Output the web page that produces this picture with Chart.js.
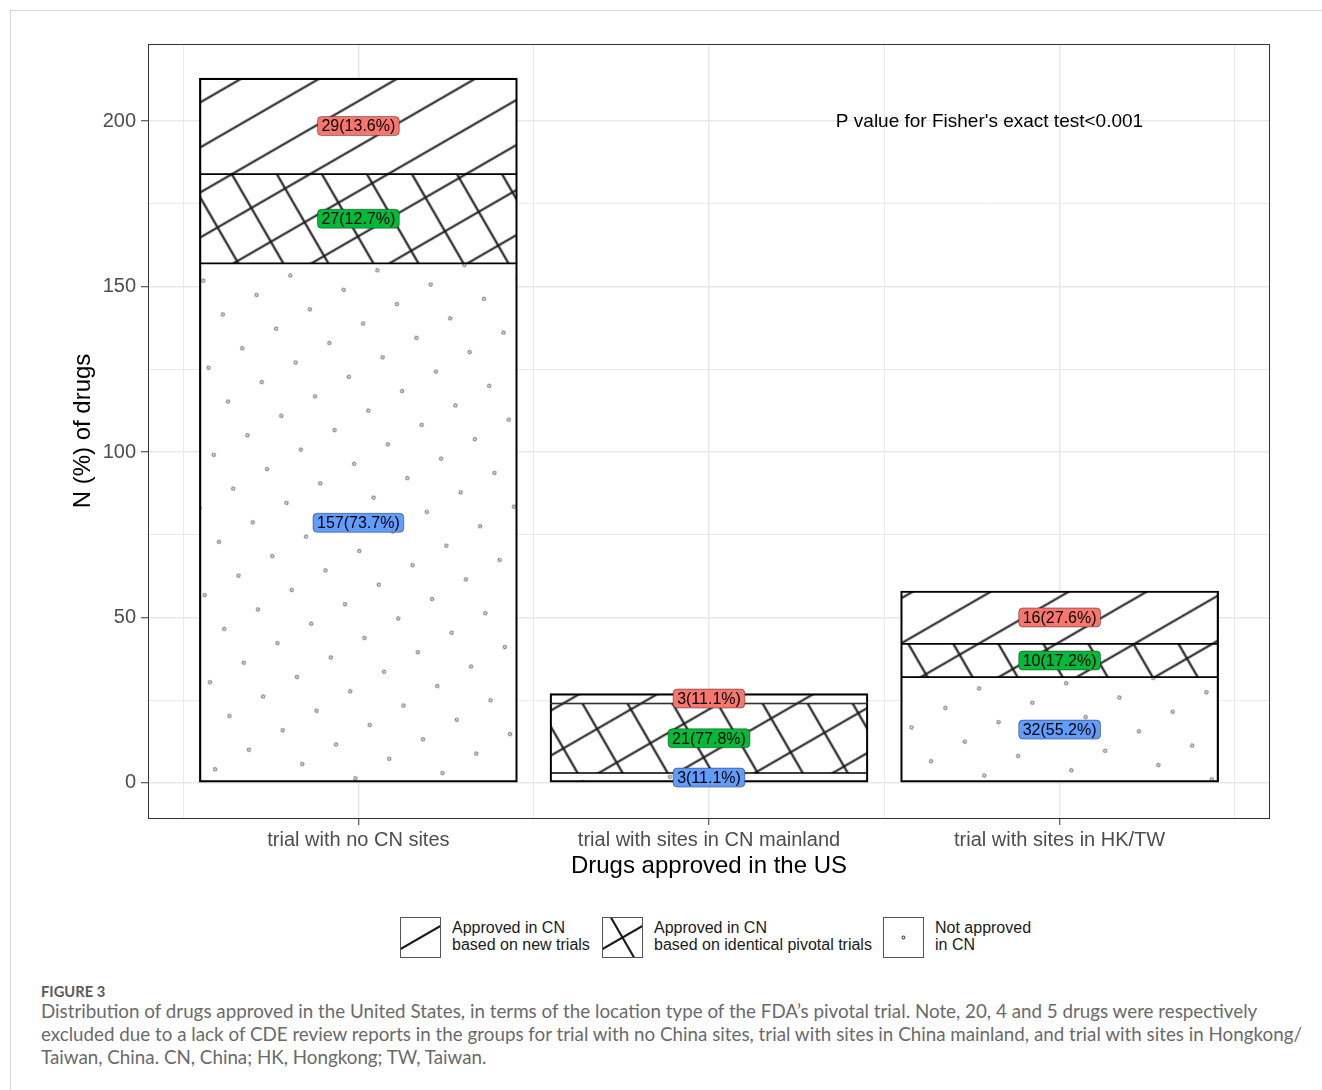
<!DOCTYPE html>
<html>
<head>
<meta charset="utf-8">
<script src="https://cdn.jsdelivr.net/npm/chart.js@4/dist/chart.umd.min.js"></script>
<style>
  body { margin: 0; background: #fff; width: 1322px; height: 1090px; overflow: hidden; position: relative; font-family: "Liberation Sans", Arial, sans-serif; }
  #frame { position: absolute; left: 10px; top: 10px; width: 1312px; height: 1080px; border-top: 1px solid #d6d6d6; border-left: 1px solid #d6d6d6; }
  #chart { position: absolute; left: 0; top: 0; }
  .key { position: absolute; top: 917px; height: 41px; }
  .key canvas { position: absolute; left: 0; top: 0; }
  .key span { position: absolute; left: 52px; top: 2px; font-size: 16px; line-height: 17px; color: #1a1a1a; white-space: nowrap; }
  #fig { position: absolute; left: 41px; top: 981px; font-family: Lato, "Open Sans", sans-serif; font-size: 14.7px; font-weight: 700; color: #5a5a5a; line-height: 20px; }
  #caption { position: absolute; left: 41px; top: 999px; font-family: Lato, "Open Sans", sans-serif; font-size: 18.8px; color: #6a6a6a; line-height: 23px; white-space: nowrap; }
</style>
</head>
<body>
<div id="frame"></div>
<canvas id="chart" width="1322" height="900"></canvas>

<div class="key" style="left:400px"><canvas id="k1" width="41" height="41"></canvas><span>Approved in CN<br>based on new trials</span></div>
<div class="key" style="left:602px"><canvas id="k2" width="41" height="41"></canvas><span>Approved in CN<br>based on identical pivotal trials</span></div>
<div class="key" style="left:883px"><canvas id="k3" width="41" height="41"></canvas><span>Not approved<br>in CN</span></div>

<div id="fig">FIGURE 3</div>
<div id="caption">
  <div>Distribution of drugs approved in the United States, in terms of the location type of the FDA’s pivotal trial. Note, 20, 4 and 5 drugs were respectively</div>
  <div>excluded due to a lack of CDE review reports in the groups for trial with no China sites, trial with sites in China mainland, and trial with sites in Hongkong/</div>
  <div>Taiwan, China. CN, China; HK, Hongkong; TW, Taiwan.</div>
</div>

<script>
// data
const categories = ['trial with no CN sites', 'trial with sites in CN mainland', 'trial with sites in HK/TW'];
const notApproved = [157, 3, 32];
const identicalTrials = [27, 21, 10];
const newTrials = [29, 3, 16];
const yTickValues = [0, 25, 50, 75, 100, 125, 150, 175, 200];
const xTickValues = [0.5, 1, 1.5, 2, 2.5, 3, 3.5];
const labelFills = ['#619CFF', '#00BA38', '#F8766D'];
const pNote = "P value for Fisher's exact test<0.001";

const totals = notApproved.map((v, i) => v + identicalTrials[i] + newTrials[i]);
const FONT = '"Liberation Sans", Arial, sans-serif';

const canvas = document.getElementById('chart');
const ctx = canvas.getContext('2d');

function drawTile(g, s, kind) {
  g.fillStyle = '#fff';
  g.fillRect(0, 0, s, s);
  g.strokeStyle = '#1a1a1a';
  g.lineWidth = 2.1;
  if (kind !== 'dots') {
    g.beginPath(); g.moveTo(0, s / 2); g.lineTo(s, s / 2); g.stroke();
  }
  if (kind === 'cross') {
    g.beginPath(); g.moveTo(s / 2, 0); g.lineTo(s / 2, s); g.stroke();
  }
  if (kind === 'dots') {
    g.beginPath(); g.arc(s / 2, s / 2, 1.6, 0, Math.PI * 2);
    g.strokeStyle = '#444'; g.lineWidth = 1; g.stroke();
  }
}

function makePattern(kind) {
  const s = 39;
  const c = document.createElement('canvas');
  c.width = s; c.height = s;
  drawTile(c.getContext('2d'), s, kind);
  const p = ctx.createPattern(c, 'repeat');
  p.setTransform(new DOMMatrix().translate(200, 80).rotate(-30));
  return p;
}

// legend keys
function drawKey(id, kind) {
  const g = document.getElementById(id).getContext('2d');
  g.fillStyle = '#fff'; g.fillRect(0, 0, 41, 41);
  g.strokeStyle = '#555'; g.lineWidth = 1;
  g.strokeRect(0.5, 0.5, 40, 40);
  g.save();
  g.beginPath(); g.rect(1, 1, 39, 39); g.clip();
  g.translate(20.5, 20.5); g.rotate(-Math.PI / 6);
  g.strokeStyle = '#1a1a1a'; g.lineWidth = 2.1;
  if (kind !== 'dots') { g.beginPath(); g.moveTo(-30, 0); g.lineTo(30, 0); g.stroke(); }
  if (kind === 'cross') { g.beginPath(); g.moveTo(0, -30); g.lineTo(0, 30); g.stroke(); }
  if (kind === 'dots') { g.beginPath(); g.arc(0, 0, 1.4, 0, Math.PI * 2); g.strokeStyle = '#444'; g.lineWidth = 1; g.stroke(); }
  g.restore();
}
drawKey('k1', 'stripe');
drawKey('k2', 'cross');
drawKey('k3', 'dots');

const tickVal = c => (c && c.tick) ? c.tick.value : NaN;
const isMajorY = v => v % 50 === 0;
const isMajorX = v => Number.isInteger(v);

const segLabels = {
  id: 'segLabels',
  afterDatasetsDraw(chart) {
    const c = chart.ctx;
    c.save();
    c.font = '16px ' + FONT;
    c.textAlign = 'center';
    c.textBaseline = 'middle';
    chart.data.datasets.forEach((ds, di) => {
      chart.getDatasetMeta(di).data.forEach((bar, i) => {
        const v = ds.data[i].y;
        const txt = v + '(' + (100 * v / totals[i]).toFixed(1) + '%)';
        const cy = (bar.y + bar.base) / 2;
        const w = c.measureText(txt).width + 8;
        const h = 19;
        c.beginPath();
        c.roundRect(bar.x - w / 2, cy - h / 2, w, h, 4);
        c.fillStyle = labelFills[di];
        c.fill();
        c.lineWidth = 0.7;
        c.strokeStyle = 'rgba(0,0,0,0.55)';
        c.stroke();
        c.fillStyle = '#000';
        c.fillText(txt, bar.x, cy + 1);
      });
    });
    // annotation
    const xs = chart.scales.x, ys = chart.scales.y;
    c.font = '19px ' + FONT;
    c.fillText(pNote, xs.getPixelForValue(2.8), ys.getPixelForValue(200) + 1);
    // panel border
    const a = chart.chartArea;
    c.strokeStyle = '#333';
    c.lineWidth = 1;
    c.strokeRect(a.left + 0.5, a.top + 0.5, a.right - a.left - 1, a.bottom - a.top);
    c.restore();
  }
};

const border = (bottom, top) => ({ left: 2.2, right: 2.2, top: top, bottom: bottom });

new Chart(ctx, {
  type: 'bar',
  data: {
    datasets: [
      {
        label: 'Not approved in CN',
        data: notApproved.map((v, i) => ({ x: i + 1, y: v })),
        backgroundColor: makePattern('dots'),
        borderColor: '#000', borderWidth: border(2.2, 1.2), borderSkipped: false
      },
      {
        label: 'Approved in CN based on identical pivotal trials',
        data: identicalTrials.map((v, i) => ({ x: i + 1, y: v })),
        backgroundColor: makePattern('cross'),
        borderColor: '#000', borderWidth: border(1.2, 1.2), borderSkipped: false
      },
      {
        label: 'Approved in CN based on new trials',
        data: newTrials.map((v, i) => ({ x: i + 1, y: v })),
        backgroundColor: makePattern('stripe'),
        borderColor: '#000', borderWidth: border(1.2, 2.2), borderSkipped: false
      }
    ]
  },
  options: {
    responsive: false,
    animation: false,
    barThickness: 318,
    layout: { padding: { left: 0, top: 44, right: 52, bottom: 0 } },
    plugins: { legend: { display: false }, tooltip: { enabled: false } },
    scales: {
      x: {
        type: 'linear', stacked: true, min: 0.4, max: 3.6, offset: false,
        afterBuildTicks: s => { s.ticks = xTickValues.map(v => ({ value: v })); },
        afterFit: s => { s.height = 82; },
        ticks: {
          autoSkip: false, maxRotation: 0, padding: 3,
          color: '#4D4D4D', font: { size: 20, family: FONT },
          callback: v => isMajorX(v) ? categories[v - 1] : ''
        },
        grid: {
          offset: false,
          color: '#E8E8E8',
          lineWidth: c => isMajorX(tickVal(c)) ? 1.5 : 0.9,
          tickLength: 7, tickWidth: 1,
          tickColor: c => isMajorX(tickVal(c)) ? '#333' : 'rgba(0,0,0,0)'
        },
        border: { display: false },
        title: {
          display: true, text: 'Drugs approved in the US', color: '#000',
          font: { size: 24, family: FONT }, padding: { top: 0, bottom: 19 }
        }
      },
      y: {
        stacked: true, min: -10.6, max: 223.3,
        afterBuildTicks: s => { s.ticks = yTickValues.map(v => ({ value: v })); },
        afterFit: s => { s.width = 148; },
        ticks: {
          padding: 5, color: '#4D4D4D', font: { size: 20, family: FONT },
          callback: v => isMajorY(v) ? String(v) : ''
        },
        grid: {
          color: '#E8E8E8',
          lineWidth: c => isMajorY(tickVal(c)) ? 1.5 : 0.9,
          tickLength: 7, tickWidth: 1,
          tickColor: c => isMajorY(tickVal(c)) ? '#333' : 'rgba(0,0,0,0)'
        },
        border: { display: false },
        title: {
          display: true, text: 'N (%) of drugs', color: '#000',
          font: { size: 24, family: FONT }, padding: { top: 69, bottom: 0 }
        }
      }
    }
  },
  plugins: [segLabels]
});
</script>
</body>
</html>
